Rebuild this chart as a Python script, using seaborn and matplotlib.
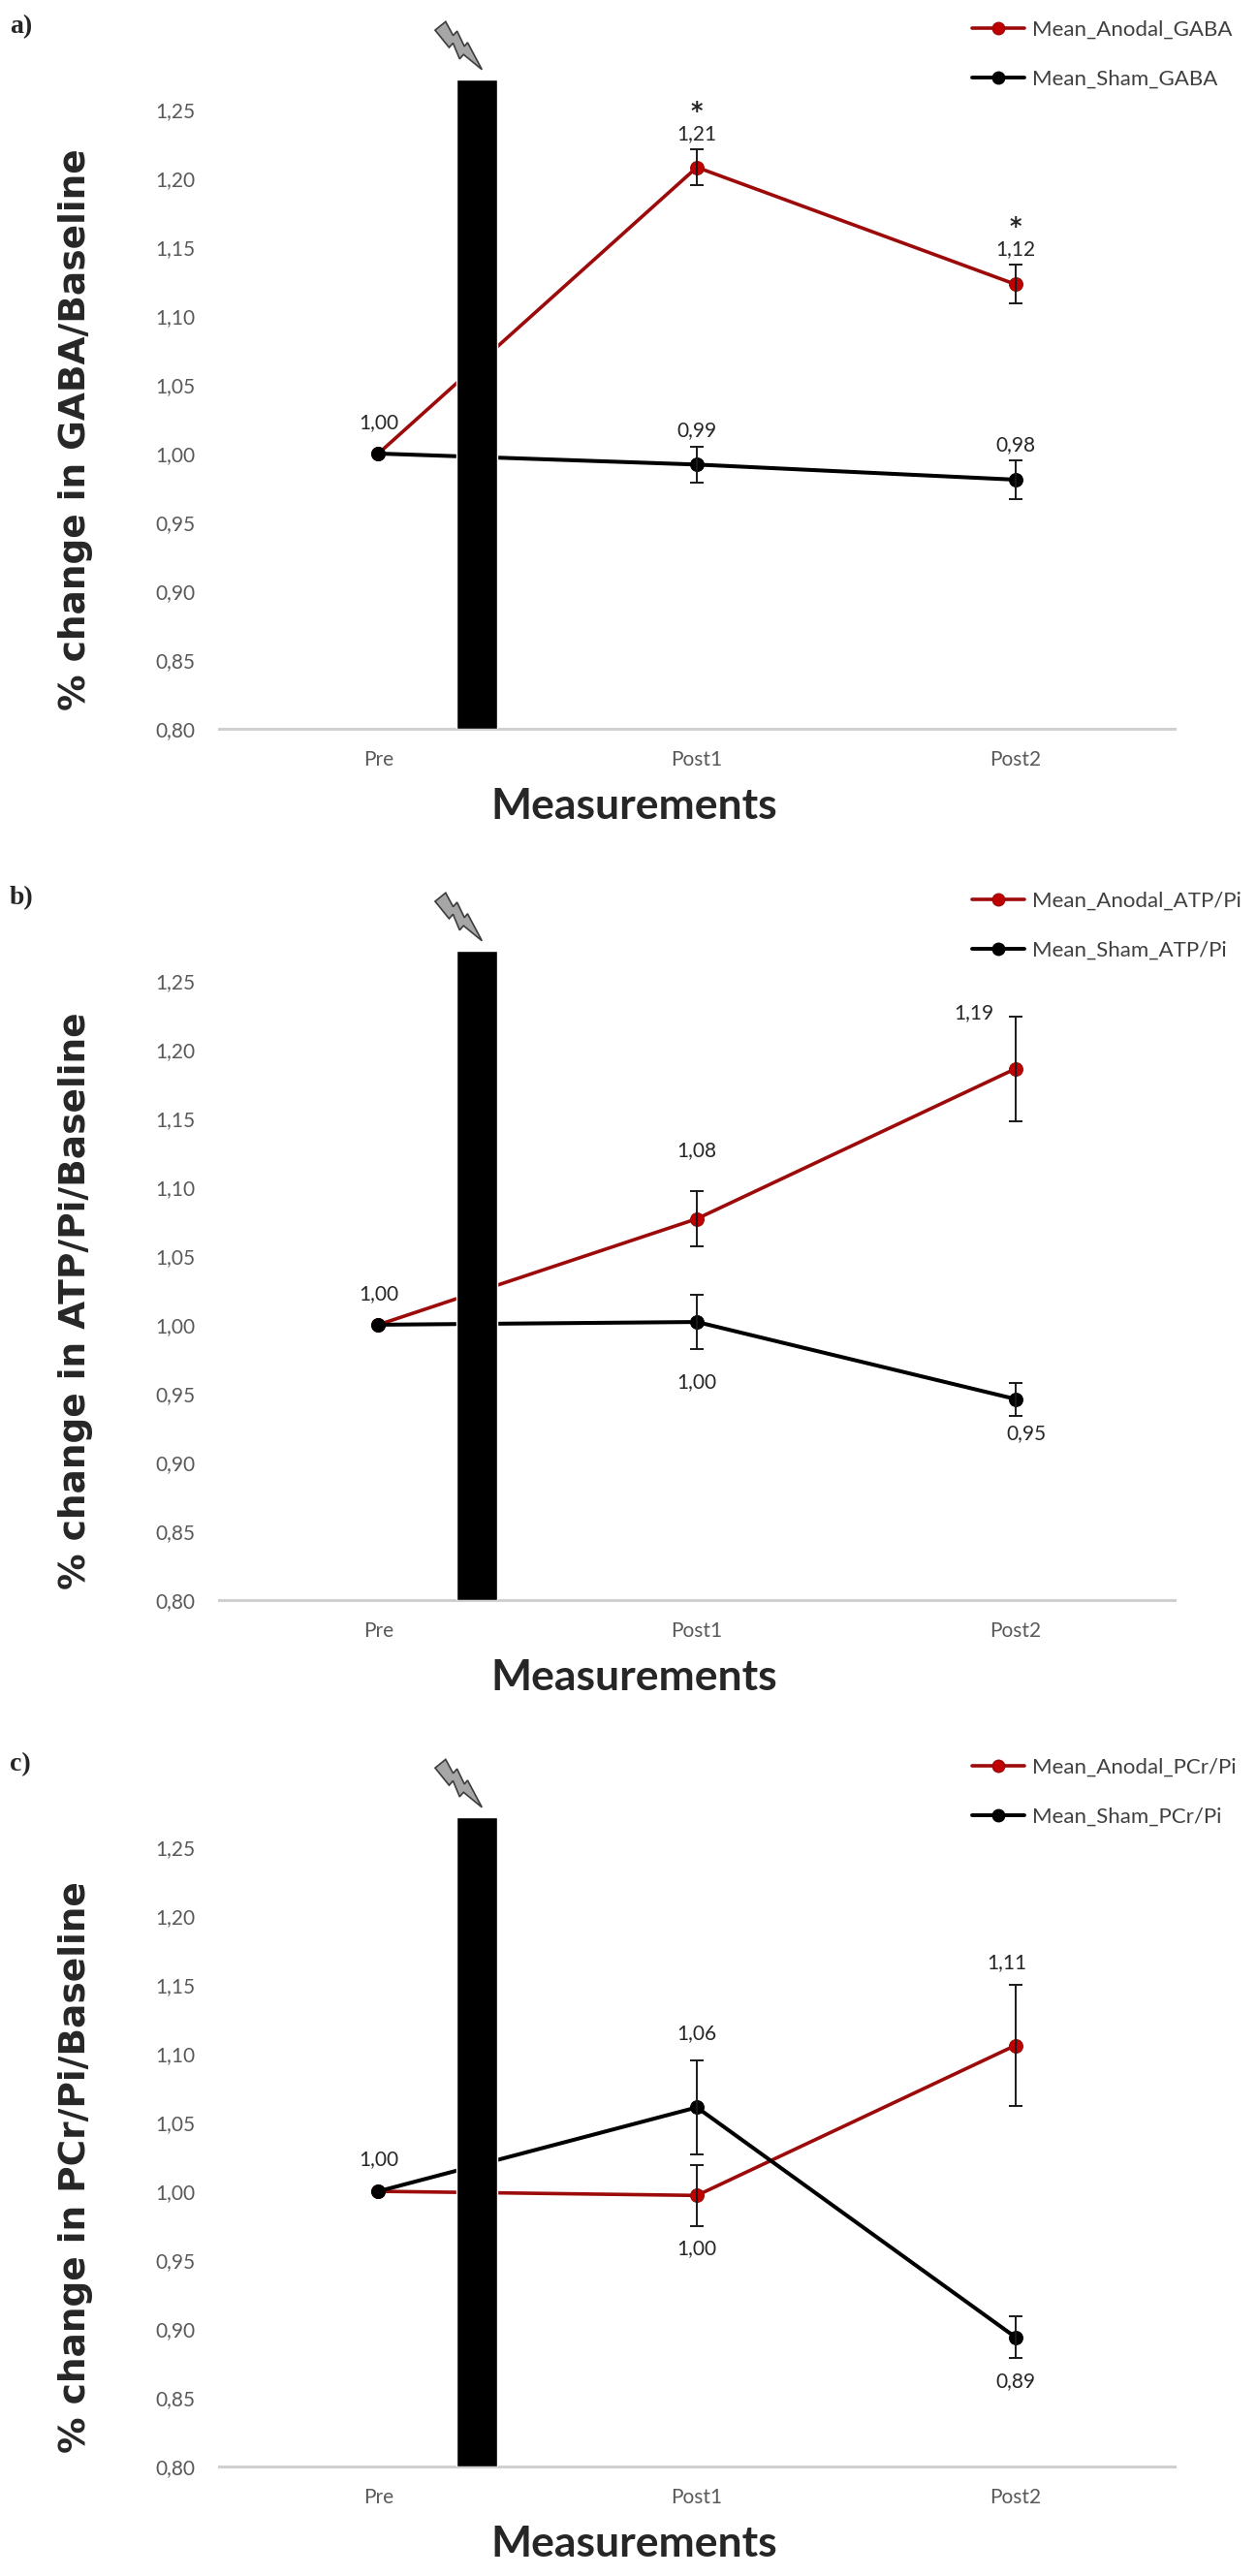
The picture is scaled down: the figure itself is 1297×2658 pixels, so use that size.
import numpy as np
import pandas as pd
import seaborn as sns
import matplotlib.pyplot as plt
import matplotlib.transforms as mtransforms
from matplotlib.lines import Line2D
from matplotlib.patches import Polygon
from matplotlib.ticker import FuncFormatter

# measurement times
times = ['Pre', 'Post1', 'Post2']

# a) GABA
gaba_anodal = [1.00, 1.208, 1.123]
gaba_anodal_sem = [0.0, 0.013, 0.014]
gaba_sham = [1.00, 0.992, 0.981]
gaba_sham_sem = [0.0, 0.013, 0.014]
gaba_stars = ['', '*', '*']

# b) ATP/Pi
atp_anodal = [1.00, 1.077, 1.186]
atp_anodal_sem = [0.0, 0.020, 0.038]
atp_sham = [1.00, 1.002, 0.946]
atp_sham_sem = [0.0, 0.020, 0.012]

# c) PCr/Pi
pcr_anodal = [1.00, 0.997, 1.106]
pcr_anodal_sem = [0.0, 0.022, 0.044]
pcr_sham = [1.00, 1.061, 0.894]
pcr_sham_sem = [0.0, 0.034, 0.015]

y_ticks = [0.80, 0.85, 0.90, 0.95, 1.00, 1.05, 1.10, 1.15, 1.20, 1.25]

# stimulation marker (between Pre and Post1)
STIM_X = 0.31
STIM_W = 0.127
STIM_TOP = 1.272

ANODAL_LINE = '#9c0a0a'
ANODAL_MARKER = '#c00000'
SHAM_COLOR = '#000000'
PX = 72 / 100  # pixels -> points at dpi 100

sns.set_style('white')
plt.rcParams['font.family'] = ['Lato', 'DejaVu Sans']

fig = plt.figure(figsize=(12.97, 26.58), dpi=100)

# lightning bolt outline, upright, tip at the origin (pixels)
BOLT = np.array([(-12, 62), (2, 62), (-1, 46), (5, 47), (1, 30), (6, 31), (0, 0),
                 (-5, 24), (-11, 23), (-6, 40), (-12, 39)], dtype=float)


def draw_bolt(ax):
    trans = (mtransforms.Affine2D().rotate_deg(39).translate(5, 10).scale(1 / 100)
             + fig.dpi_scale_trans
             + mtransforms.ScaledTranslation(STIM_X, STIM_TOP, ax.transData))
    ax.add_patch(Polygon(BOLT, closed=True, facecolor='#a6a6a6', edgecolor='#3d3d3d',
                         lw=1.2, joinstyle='miter', transform=trans, clip_on=False,
                         zorder=6))


def comma(v, pos=None):
    return f'{v:.2f}'.replace('.', ',')


def draw_panel(ax, letter, metric, anodal, anodal_sem, sham, sham_sem,
               anodal_offsets, sham_offsets, stars=None):
    anodal_name = f'Mean_Anodal_{metric}'
    sham_name = f'Mean_Sham_{metric}'
    df = pd.DataFrame({
        'Measurements': times * 2,
        'value': anodal + sham,
        'group': [anodal_name] * len(times) + [sham_name] * len(times),
    })
    sns.lineplot(data=df, x='Measurements', y='value', hue='group',
                 hue_order=[anodal_name, sham_name],
                 palette={anodal_name: ANODAL_LINE, sham_name: SHAM_COLOR},
                 marker='o', markersize=10, errorbar=None, legend=False,
                 sort=False, ax=ax, zorder=3)
    red, black = ax.lines[0], ax.lines[1]
    red.set_linewidth(2.6)
    red.set_markerfacecolor(ANODAL_MARKER)
    red.set_markeredgecolor(ANODAL_LINE)
    black.set_linewidth(2.9)
    black.set_markeredgecolor(SHAM_COLOR)

    x = np.arange(len(times))
    for vals, sem in ((anodal, anodal_sem), (sham, sham_sem)):
        m = np.array(sem) > 0
        ax.errorbar(x[m], np.array(vals)[m], yerr=np.array(sem)[m], fmt='none',
                    ecolor='#1a1a1a', elinewidth=1.4, capsize=5, capthick=1.4, zorder=4)

    ax.bar(STIM_X, STIM_TOP - y_ticks[0], bottom=y_ticks[0], width=STIM_W,
           color='black', zorder=5)
    draw_bolt(ax)

    for vals, offs in ((anodal, anodal_offsets), (sham, sham_offsets)):
        for i, (v, off) in enumerate(zip(vals, offs)):
            if off is None:
                continue
            ax.annotate(comma(v), (i, v), xytext=(off[0] * PX, off[1] * PX),
                        textcoords='offset points', ha='center', va='center',
                        fontsize=15, color='#262626', zorder=7)
    if stars:
        for i, s in enumerate(stars):
            if s:
                ax.annotate(s, (i, anodal[i]), xytext=(0, (anodal_offsets[i][1] + 11) * PX),
                            textcoords='offset points', ha='center', va='bottom',
                            fontsize=17, fontweight='bold', family='DejaVu Sans',
                            color='#262626', zorder=7)

    ax.set_xlim(-0.5, 2.5)
    ax.set_ylim(0.80, 1.30)
    ax.set_yticks(y_ticks)
    ax.yaxis.set_major_formatter(FuncFormatter(comma))
    ax.set_xticks(x)
    ax.set_xticklabels(times)
    ax.set_xticks([-0.5, 0.5, 1.5, 2.5], minor=True)
    ax.tick_params(axis='y', length=0, pad=18, labelsize=15, labelcolor='#595959')
    ax.tick_params(axis='x', which='major', length=0, pad=16, labelsize=15,
                   labelcolor='#595959')
    ax.tick_params(axis='x', which='minor', length=7, width=1.5, color='#d0d0d0',
                   direction='out')
    for s in ['top', 'right', 'left']:
        ax.spines[s].set_visible(False)
    ax.spines['bottom'].set_color('#d0d0d0')
    ax.spines['bottom'].set_linewidth(2.2)

    ax.set_xlabel('Measurements', fontsize=32, fontweight='bold')
    ax.xaxis.set_label_coords(0.434, -0.085)
    ax.set_ylabel(f'% change in {metric}/Baseline', fontsize=27, fontweight='bold',
                  family='DejaVu Sans')
    ax.yaxis.set_label_coords(-0.132, 0.435)

    ax.text(-0.219, 1.0197, letter, transform=ax.transAxes, fontsize=20,
            fontweight='bold', family='Liberation Serif', ha='left', va='center')

    handles = [
        Line2D([], [], color=ANODAL_LINE, lw=2.6, marker='o', markersize=9,
               markerfacecolor=ANODAL_MARKER, markeredgecolor=ANODAL_LINE),
        Line2D([], [], color=SHAM_COLOR, lw=2.8, marker='o', markersize=9),
    ]
    ax.legend(handles, [anodal_name, sham_name], loc='upper left',
              bbox_to_anchor=(0.788, 1.03), frameon=False, fontsize=16,
              labelspacing=1.4, handlelength=2.45, handletextpad=0.35,
              borderpad=0, borderaxespad=0, labelcolor='#404040')


LEFT, WIDTH, HEIGHT = 0.1743, 0.7602, 0.2671
ax_a = fig.add_axes([LEFT, 0.7171, WIDTH, HEIGHT])
ax_b = fig.add_axes([LEFT, 0.3789, WIDTH, HEIGHT])
ax_c = fig.add_axes([LEFT, 0.0425, WIDTH, HEIGHT])

draw_panel(ax_a, 'a)', 'GABA', gaba_anodal, gaba_anodal_sem, gaba_sham, gaba_sham_sem,
           [(0, 32), (0, 35), (0, 36)], [None, (0, 35), (0, 36)], stars=gaba_stars)
draw_panel(ax_b, 'b)', 'ATP/Pi', atp_anodal, atp_anodal_sem, atp_sham, atp_sham_sem,
           [(0, 32), (0, 70), (-43, 58)], [None, (0, -62), (11, -36)])
draw_panel(ax_c, 'c)', 'PCr/Pi', pcr_anodal, pcr_anodal_sem, pcr_sham, pcr_sham_sem,
           [(0, 33), (0, -55), (-9, 85)], [None, (0, 76), (0, -46)])

fig.savefig('out.png', dpi=100)
